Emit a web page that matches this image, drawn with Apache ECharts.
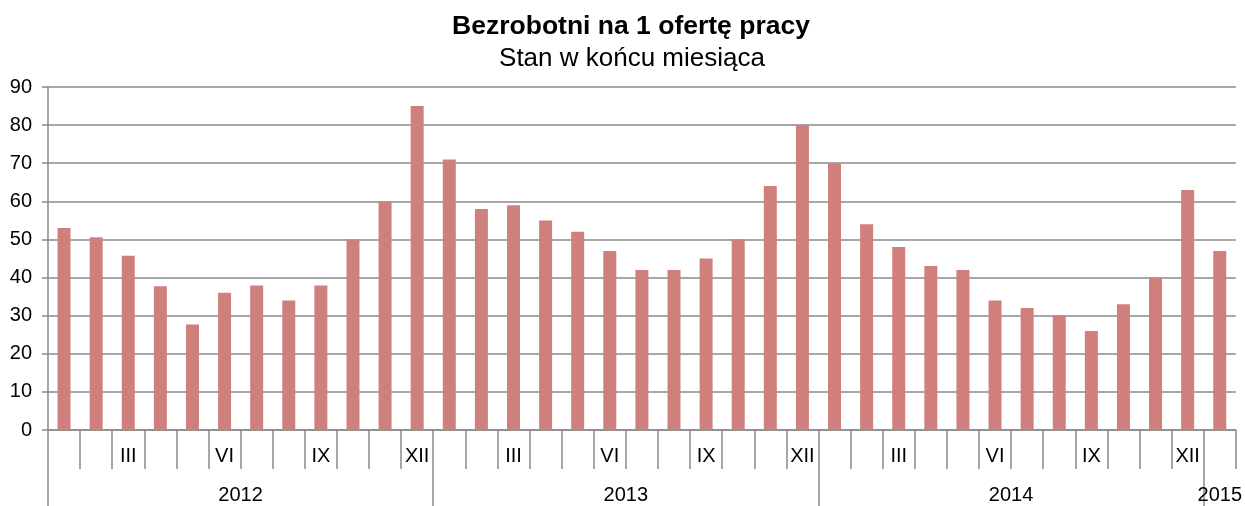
<!DOCTYPE html>
<html>
<head>
<meta charset="utf-8">
<script src="https://cdn.jsdelivr.net/npm/echarts@6/dist/echarts.min.js"></script>
<style>html,body{margin:0;padding:0;background:#fff}#c{width:1245px;height:506px}</style>
</head>
<body>
<div id="c"></div>
<script>
const titleText = 'Bezrobotni na 1 ofertę pracy';
const subtitleText = 'Stan w końcu miesiąca';
const monthLabels = ['', '', 'III', '', '', 'VI', '', '', 'IX', '', '', 'XII',
  '', '', 'III', '', '', 'VI', '', '', 'IX', '', '', 'XII',
  '', '', 'III', '', '', 'VI', '', '', 'IX', '', '', 'XII',
  ''];
const values = [53, 50.6, 45.7, 37.7, 27.7, 36, 37.9, 34, 37.9, 50, 60, 85,
  71, 58, 59, 55, 52, 47, 42, 42, 45, 50, 64, 80,
  70, 54, 48, 43, 42, 34, 32, 30, 26, 33, 40, 63,
  47];
const yearLabels = ['2012', '2013', '2014', '2015'];
const yearSpans = [12, 12, 12, 1];
const yTicks = { min: 0, max: 90, interval: 10 };

const yearStarts = [];
const yearCenters = [];
let acc = 0;
yearSpans.forEach(s => { yearStarts.push(acc); yearCenters.push(acc + s / 2); acc += s; });
const total = acc;

const FONT = '"Liberation Sans Narrow", "Arial Narrow", "Liberation Sans", Arial, sans-serif';
const gray = '#8a8a8a';

const chart = echarts.init(document.getElementById('c'));
chart.setOption({
  animation: false,
  title: [
    { text: titleText, left: 631, top: 13, padding: 0, textAlign: 'center',
      textStyle: { fontFamily: '"Liberation Sans", Arial, sans-serif', fontWeight: 'bold', fontSize: 26.5, color: '#000' } },
    { text: subtitleText, left: 632, top: 46, padding: 0, textAlign: 'center',
      textStyle: { fontFamily: '"Liberation Sans", Arial, sans-serif', fontWeight: 'normal', fontSize: 26, color: '#000' } }
  ],
  grid: { left: 48, right: 3, top: 87, bottom: 76, containLabel: false },
  xAxis: [
    {
      type: 'category', data: monthLabels,
      axisLine: { show: true, lineStyle: { color: gray, width: 1.5 } },
      axisTick: { show: true, interval: 0, length: 39, lineStyle: { color: gray, width: 1.5 } },
      axisLabel: { interval: 0, margin: 16, fontFamily: FONT, fontSize: 20, color: '#000' }
    },
    {
      type: 'value', min: 0, max: total, position: 'bottom',
      axisLine: { show: false },
      splitLine: { show: false },
      axisTick: { show: true, customValues: yearStarts, length: 76, lineStyle: { color: gray, width: 1.5 } },
      axisLabel: {
        customValues: yearCenters, margin: 55, fontFamily: FONT, fontSize: 20, color: '#000',
        formatter: v => { const i = yearCenters.indexOf(v); return i >= 0 ? yearLabels[i] : ''; }
      }
    }
  ],
  yAxis: {
    type: 'value', min: yTicks.min, max: yTicks.max, interval: yTicks.interval,
    axisLine: { show: true, lineStyle: { color: gray, width: 1.5 } },
    axisTick: { show: true, length: 6, lineStyle: { color: gray, width: 1.5 } },
    axisLabel: { margin: 16, fontFamily: FONT, fontSize: 20, color: '#000' },
    splitLine: { show: true, lineStyle: { color: gray, width: 1.5 } }
  },
  series: [{
    type: 'bar', data: values, xAxisIndex: 0, barWidth: 13,
    itemStyle: { color: '#d0807c' }
  }]
});
</script>
</body>
</html>
